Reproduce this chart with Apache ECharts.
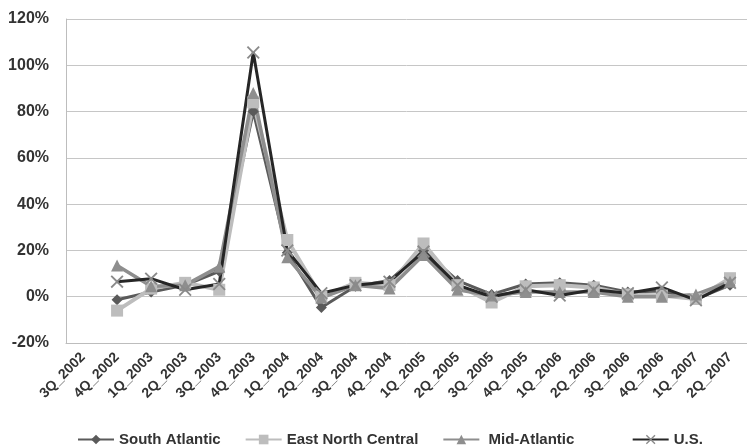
<!DOCTYPE html>
<html>
<head>
<meta charset="utf-8">
<script src="https://cdn.jsdelivr.net/npm/echarts@6/dist/echarts.min.js"></script>
<style>
  html, body { margin: 0; padding: 0; background: #fff; }
  #chart { width: 747px; height: 447px; }
</style>
</head>
<body>
<div id="chart"></div>
<script>
// quarters on the x axis
var quarters = ['3Q_2002', '4Q_2002', '1Q_2003', '2Q_2003', '3Q_2003', '4Q_2003',
  '1Q_2004', '2Q_2004', '3Q_2004', '4Q_2004', '1Q_2005', '2Q_2005', '3Q_2005',
  '4Q_2005', '1Q_2006', '2Q_2006', '3Q_2006', '4Q_2006', '1Q_2007', '2Q_2007']

// growth rates in percent
var southAtlantic = [null, -1.3, 2, 5, 11, 80, 19, -4.7, 4.5, 7, 20, 7, 1, 5.5, 6, 5, 2, 2.5, -1, 5]
var eastNorthCentral = [null, -6, 3.5, 6, 3, 84, 24.5, 0, 6, 5, 23, 5, -2.5, 4.5, 5, 4, 1, 0.5, -1, 8]
var midAtlantic = [null, 13.5, 4.5, 5, 13, 88, 17, -0.5, 5, 3.5, 18, 3, 0.5, 2, 2, 2, 0, 0, 1, 6.5]
var us = [null, 6.5, 7.8, 3, 5.5, 105.5, 20, 1.5, 5, 6.5, 19.5, 5, 0, 3, 0.5, 3, 1.5, 4, -1.5, 6]

var yTicks = { min: -20, max: 120, step: 20 }

var crossPath = 'path://M0,1L1,0L5,4L9,0L10,1L6,5L10,9L9,10L5,6L1,10L0,9L4,5Z'

var chart = echarts.init(document.getElementById('chart'))

function makeSeries(name, data, lineColor, symbol, symbolSize, markColor, width) {
  return {
    name: name,
    type: 'line',
    data: data,
    symbol: symbol,
    symbolSize: symbolSize,
    showAllSymbol: true,
    connectNulls: false,
    lineStyle: { color: lineColor, width: width },
    itemStyle: { color: markColor },
    emphasis: { disabled: true }
  }
}

chart.setOption({
  animation: false,
  textStyle: { fontFamily: 'Liberation Sans' },
  grid: {
    left: 66,
    top: 19,
    height: 324,
    width: 689
  },
  legend: {
    left: 72,
    top: 427,
    itemWidth: 36,
    itemHeight: 12,
    itemGap: 24,
    textStyle: { fontSize: 15, fontWeight: 'bold', color: '#333' },
    formatter: function(name) {
      // the Excel legend spaces the last two entries wider
      if (name === 'Mid-Atlantic') {
        return ' ' + name + '        '
      }
      return name
    },
    data: ['South Atlantic', 'East North Central', 'Mid-Atlantic', 'U.S.']
  },
  xAxis: {
    type: 'category',
    data: quarters,
    boundaryGap: true,
    axisLine: { onZero: false, lineStyle: { color: '#bdbdbd', width: 1 } },
    axisTick: { show: false },
    axisLabel: {
      interval: 0,
      rotate: 45,
      fontSize: 14,
      fontWeight: 'bold',
      color: '#333',
      margin: 12
    },
    splitLine: { show: false }
  },
  yAxis: {
    type: 'value',
    min: yTicks.min,
    max: yTicks.max,
    interval: yTicks.step,
    axisLine: { show: true, lineStyle: { color: '#bdbdbd', width: 1 } },
    axisTick: { show: false },
    axisLabel: {
      formatter: '{value}%',
      fontSize: 16,
      fontWeight: 'bold',
      color: '#333',
      margin: 17
    },
    splitLine: { lineStyle: { color: '#c6c6c6', width: 1 } }
  },
  series: [
    makeSeries('South Atlantic', southAtlantic, '#5a5a5a', 'diamond', 11, '#5a5a5a', 3),
    makeSeries('East North Central', eastNorthCentral, '#bdbdbd', 'rect', 12, '#bdbdbd', 4),
    makeSeries('Mid-Atlantic', midAtlantic, '#8e8e8e', 'triangle', 12, '#8e8e8e', 3.5),
    makeSeries('U.S.', us, '#262626', crossPath, 13, '#8a8a8a', 3)
  ]
})
</script>
</body>
</html>
